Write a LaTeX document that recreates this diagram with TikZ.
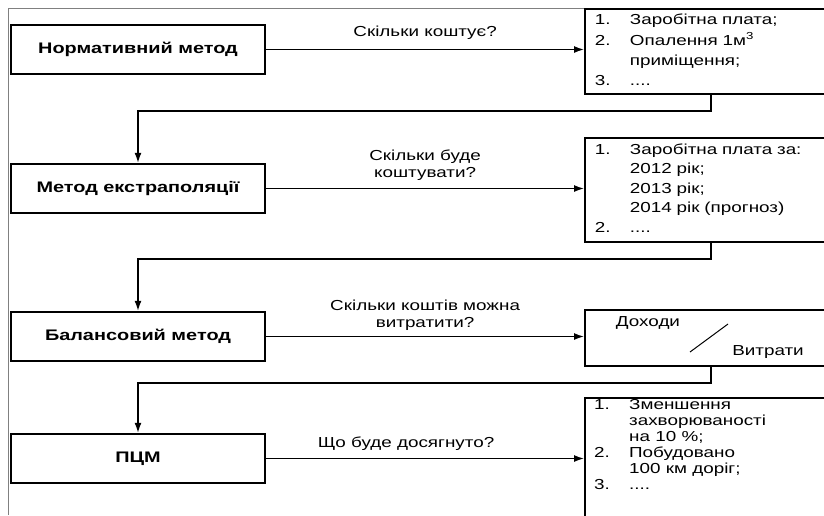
\documentclass[tikz,border=0pt]{standalone}
\usepackage{fontspec}
\setmainfont{Liberation Sans}[FakeStretch=1.3]
\usetikzlibrary{arrows.meta,positioning}

\begin{document}
\begin{tikzpicture}[x=1pt,y=-1pt,>={Latex[length=10pt,width=7pt]},
    font=\fontsize{14.5}{17}\selectfont,
    method/.style={draw,line width=2.4pt,minimum width=254pt,minimum height=49pt,
      font=\fontsize{15.3}{17}\selectfont\bfseries},
    answer/.style={draw,line width=1.9pt,anchor=north west,text width=232pt,
      inner xsep=10pt,inner ysep=2pt,align=left},
    link/.style={line width=1.4pt}]
  \useasboundingbox (0,0) rectangle (824,515);
  \clip (0,0) rectangle (824,515);
  \draw[gray,line width=0.8pt] (8,515) -- (8,8) -- (824,8);
  % methods
  \node[method] (m1) at (138,49.5) {Нормативний метод};
  \node[method] (m2) at (138,188.5) {Метод екстраполяції};
  \node[method] (m3) at (138,336.5) {Балансовий метод};
  \node[method] (m4) at (138,458.5) {ПЦМ};
  % answers
  \node[answer,minimum height=85pt] (a1) at (584,8)
       {\begin{tabular}{@{}p{35pt}@{}l@{}}
        1. & Заробітна плата;\\[3pt]
        2. & Опалення 1м\textsuperscript{3}\\[3pt]
           & приміщення;\\[3pt]
        3. & ....
        \end{tabular}};
  \node[answer,minimum height=104pt] (a2) at (584,137)
       {\begin{tabular}{@{}p{35pt}@{}l@{}}
        1. & Заробітна плата за:\\[2.5pt]
           & 2012 рік;\\[2.5pt]
           & 2013 рік;\\[2.5pt]
           & 2014 рік (прогноз)\\[2.5pt]
        2. & ....
        \end{tabular}};
  \node[answer,minimum height=56pt] (a3) at (584,309) {};
  \node (inc) at (648,323) {Доходи};
  \node (exp) at (768,352) {Витрати};
  \draw[line width=1pt] (690,352) -- (728,324);
  \node[answer,minimum height=140pt] (a4) at (584,397) {};
  \node[anchor=north west,inner sep=0pt,font=\fontsize{14.5}{16}\selectfont]
       (l4) at (594,398)
       {\begin{tabular}{@{}p{35pt}@{}l@{}}
        1. & Зменшення\\
           & захворюваності\\
           & на 10 \%;\\
        2. & Побудовано\\
           & 100 км доріг;\\
        3. & ....
        \end{tabular}};
  % questions
  \draw[link,->] (m1.east) -- (m1.east -| a1.west)
        node[above=6pt,midway] {Скільки коштує?};
  \draw[link,->] (m2.east) -- (m2.east -| a2.west)
        node[above=4pt,midway,align=center] {Скільки буде\\коштувати?};
  \draw[link,->] (m3.east) -- (m3.east -| a3.west)
        node[above=2pt,midway,align=center] {Скільки коштів можна\\витратити?};
  \draw[link,->] (m4.east) -- (m4.east -| a4.west)
        node[above=4pt,pos=.44] {Що буде досягнуто?};
  % back to the next method
  \foreach \a/\m in {a1/m2,a2/m3,a3/m4}
    \draw[link,->] (\a.south) -- ++(0,16) -| (\m.north);
\end{tikzpicture}
\end{document}
